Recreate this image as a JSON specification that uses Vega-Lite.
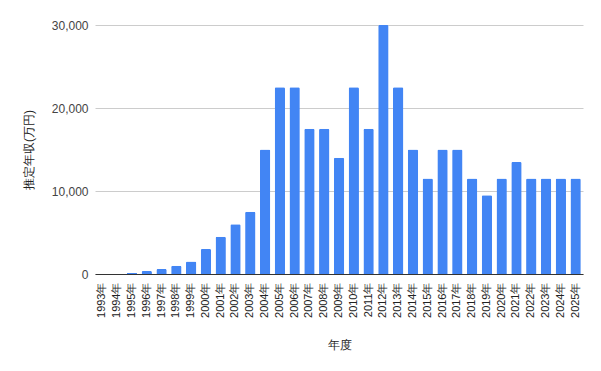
{
  "$schema": "https://vega.github.io/schema/vega-lite/v6.json",
  "width": 488,
  "height": 249,
  "autosize": {"type": "none"},
  "padding": {"left": 95, "top": 25, "right": 18, "bottom": 97},
  "background": "#ffffff",
  "config": {"view": {"stroke": null}, "font": "Liberation Sans"},
  "data": {"values": [
    {"year": "1993年", "v": 0},
    {"year": "1994年", "v": 0},
    {"year": "1995年", "v": 120},
    {"year": "1996年", "v": 360},
    {"year": "1997年", "v": 600},
    {"year": "1998年", "v": 1000},
    {"year": "1999年", "v": 1500},
    {"year": "2000年", "v": 3000},
    {"year": "2001年", "v": 4500},
    {"year": "2002年", "v": 6000},
    {"year": "2003年", "v": 7500},
    {"year": "2004年", "v": 15000},
    {"year": "2005年", "v": 22500},
    {"year": "2006年", "v": 22500},
    {"year": "2007年", "v": 17500},
    {"year": "2008年", "v": 17500},
    {"year": "2009年", "v": 14000},
    {"year": "2010年", "v": 22500},
    {"year": "2011年", "v": 17500},
    {"year": "2012年", "v": 30000},
    {"year": "2013年", "v": 22500},
    {"year": "2014年", "v": 15000},
    {"year": "2015年", "v": 11500},
    {"year": "2016年", "v": 15000},
    {"year": "2017年", "v": 15000},
    {"year": "2018年", "v": 11500},
    {"year": "2019年", "v": 9500},
    {"year": "2020年", "v": 11500},
    {"year": "2021年", "v": 13500},
    {"year": "2022年", "v": 11500},
    {"year": "2023年", "v": 11500},
    {"year": "2024年", "v": 11500},
    {"year": "2025年", "v": 11500}
  ]},
  "mark": {"type": "bar", "color": "#4285F4", "cornerRadiusTopLeft": 1.5, "cornerRadiusTopRight": 1.5},
  "encoding": {
    "x": {
      "field": "year", "type": "ordinal", "sort": null,
      "scale": {"paddingInner": 0.3, "paddingOuter": 0.15},
      "axis": {
        "title": "年度", "titleFontSize": 12, "titleFontWeight": "normal", "titleColor": "#222222",
        "titlePadding": 22,
        "labelAngle": -90, "labelFontSize": 11, "labelColor": "#222222", "labelPadding": 8,
        "ticks": false, "domain": true, "domainColor": "#333333", "domainWidth": 1,
        "grid": false
      }
    },
    "y": {
      "field": "v", "type": "quantitative",
      "scale": {"domain": [0, 30000]},
      "axis": {
        "title": "推定年収(万円)", "titleFontSize": 12, "titleFontWeight": "normal", "titleColor": "#222222",
        "titlePadding": 16,
        "values": [0, 10000, 20000, 30000], "format": ",.0f",
        "labelFontSize": 12, "labelColor": "#444444", "labelPadding": 7,
        "ticks": false, "domain": false,
        "grid": true, "gridColor": "#cccccc", "gridWidth": 1
      }
    }
  }
}
